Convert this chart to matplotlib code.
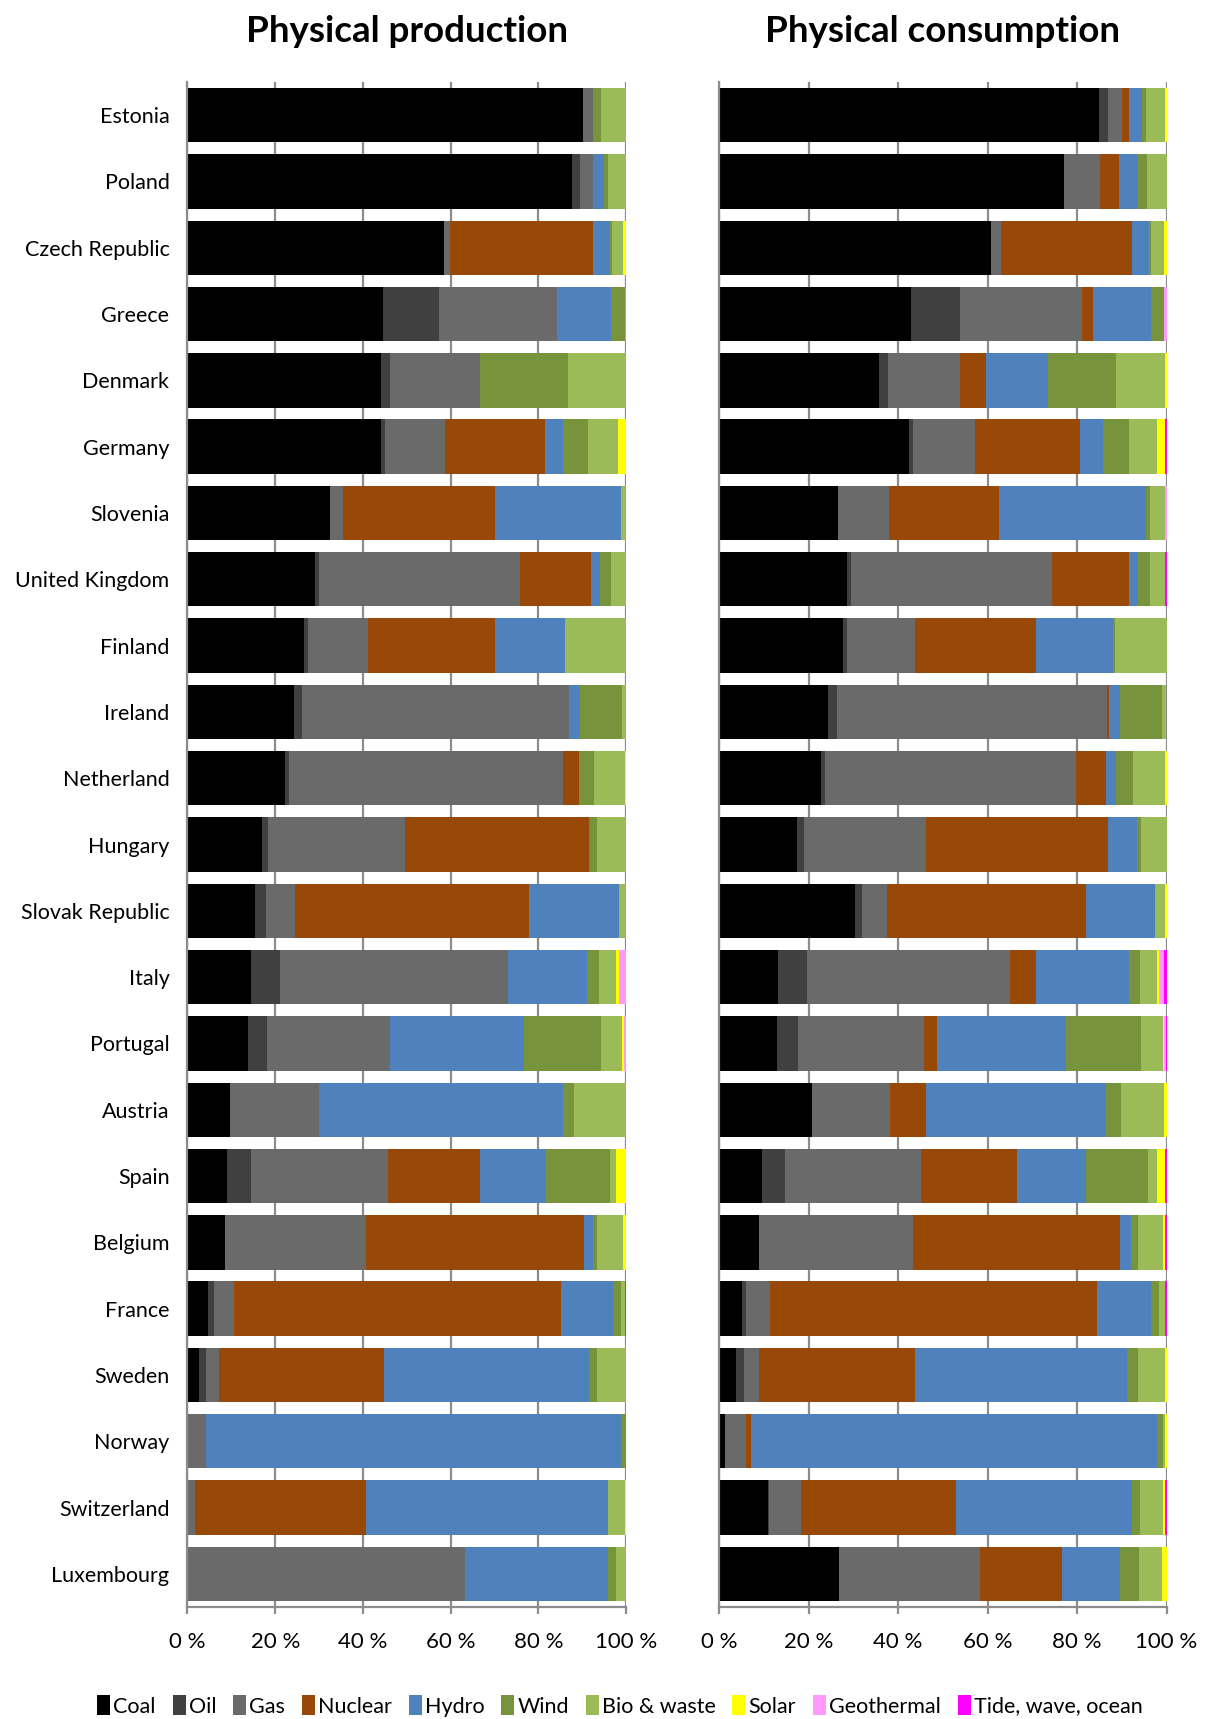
import matplotlib
matplotlib.use("Agg")
import matplotlib.pyplot as plt
import numpy as np
from matplotlib.patches import Patch

plt.rcParams['font.family'] = ['Lato', 'DejaVu Sans']

countries = ["Estonia", "Poland", "Czech Republic", "Greece", "Denmark", "Germany",
             "Slovenia", "United Kingdom", "Finland", "Ireland", "Netherland", "Hungary",
             "Slovak Republic", "Italy", "Portugal", "Austria", "Spain", "Belgium",
             "France", "Sweden", "Norway", "Switzerland", "Luxembourg"]

sources = ["Coal", "Oil", "Gas", "Nuclear", "Hydro", "Wind", "Bio & waste",
           "Solar", "Geothermal", "Tide, wave, ocean"]
colors = ["#000000", "#404040", "#6a6a6a", "#984807", "#4f81bd", "#77933c",
          "#9bbb59", "#ffff00", "#ff99ff", "#ff00ff"]

# Physical production (% share)
prod_coal = [90.1, 87.6, 58.6, 44.6, 44.2, 44.2, 32.5, 29.1, 26.6, 24.2, 22.2, 16.9,
             15.4, 14.4, 13.9, 9.6, 9.0, 8.5, 4.6, 2.7, 0.0, 0.0, 0.0]
prod_oil = [0.0, 2.0, 0.0, 12.6, 2.0, 1.0, 0.0, 0.9, 0.9, 2.0, 1.0, 1.4,
            2.4, 6.8, 4.3, 0.0, 5.4, 0.0, 1.5, 1.5, 0.0, 0.0, 0.0]
prod_gas = [2.4, 2.9, 1.2, 27.0, 20.5, 13.6, 2.9, 45.9, 13.7, 60.9, 62.4, 31.2,
            6.8, 51.9, 27.9, 20.5, 31.3, 32.2, 4.4, 2.9, 4.2, 1.7, 63.2]
prod_nuclear = [0.0, 0.0, 32.7, 0.0, 0.0, 23.0, 34.7, 16.1, 28.8, 0.0, 3.5, 42.0,
                53.2, 0.0, 0.0, 0.0, 21.0, 49.8, 74.7, 37.6, 0.0, 39.1, 0.0]
prod_hydro = [0.0, 2.4, 3.9, 12.2, 0.0, 4.0, 28.8, 2.0, 16.1, 2.4, 0.0, 0.4,
              20.5, 18.1, 30.7, 55.7, 15.1, 2.0, 11.8, 46.8, 94.7, 55.2, 32.8]
prod_wind = [1.9, 1.1, 0.4, 3.3, 20.0, 5.8, 0.0, 2.5, 0.0, 9.7, 3.4, 1.6,
             0.0, 2.8, 17.6, 2.4, 14.6, 0.9, 1.9, 2.0, 1.1, 0.0, 1.8]
prod_bio = [5.6, 4.0, 2.5, 0.2, 13.3, 6.8, 1.1, 3.5, 13.8, 0.8, 7.2, 6.5,
            1.7, 3.8, 4.8, 11.9, 1.4, 5.9, 0.9, 6.5, 0.0, 3.8, 2.2]
prod_solar = [0.0, 0.0, 0.7, 0.0, 0.0, 1.9, 0.0, 0.0, 0.0, 0.0, 0.2, 0.0,
              0.0, 0.6, 0.3, 0.0, 2.2, 0.7, 0.0, 0.0, 0.0, 0.2, 0.0]
prod_geo = [0.0, 0.0, 0.0, 0.0, 0.0, 0.0, 0.0, 0.0, 0.0, 0.0, 0.0, 0.0,
            0.0, 1.7, 0.5, 0.0, 0.0, 0.0, 0.0, 0.0, 0.0, 0.0, 0.0]
prod_tide = [0.0, 0.0, 0.0, 0.0, 0.0, 0.0, 0.0, 0.0, 0.0, 0.0, 0.0, 0.0,
             0.0, 0.0, 0.0, 0.0, 0.0, 0.0, 0.2, 0.0, 0.0, 0.0, 0.0]

# Physical consumption (% share)
cons_coal = [85.0, 76.8, 60.8, 43.0, 35.8, 42.4, 26.7, 28.5, 27.6, 24.3, 22.8, 17.5,
             30.5, 13.3, 12.8, 20.8, 9.5, 9.0, 5.1, 3.7, 1.3, 10.9, 26.7]
cons_oil = [2.0, 0.0, 0.0, 10.9, 1.9, 1.0, 0.0, 1.0, 0.9, 1.9, 1.0, 1.5,
            1.4, 6.3, 4.8, 0.0, 5.2, 0.0, 1.0, 1.9, 0.0, 0.3, 0.0]
cons_gas = [3.2, 8.1, 2.2, 27.2, 16.2, 13.9, 11.4, 44.9, 15.3, 60.2, 56.0, 27.3,
            5.7, 45.4, 28.1, 17.3, 30.5, 34.4, 5.3, 3.4, 4.8, 7.2, 31.4]
cons_nuclear = [1.5, 4.3, 29.2, 2.5, 5.7, 23.4, 24.4, 17.2, 26.8, 0.5, 6.7, 40.7,
                44.5, 5.8, 2.9, 8.2, 21.5, 46.3, 73.1, 34.8, 1.0, 34.5, 18.2]
cons_hydro = [2.9, 4.2, 3.8, 13.0, 13.9, 5.3, 33.0, 1.9, 17.3, 2.4, 2.4, 6.3,
              15.3, 21.0, 28.7, 40.1, 15.3, 2.4, 12.0, 47.4, 90.8, 39.2, 12.9]
cons_wind = [1.0, 1.9, 0.4, 2.9, 15.3, 5.7, 0.9, 2.8, 0.4, 9.5, 3.8, 0.9,
             0.0, 2.4, 16.7, 3.4, 13.9, 1.5, 1.9, 2.4, 1.4, 1.9, 4.3]
cons_bio = [4.2, 4.4, 2.9, 0.0, 10.9, 6.2, 3.3, 3.3, 11.5, 0.9, 7.1, 5.8,
            2.3, 3.8, 4.8, 9.5, 1.9, 5.7, 1.3, 6.1, 0.4, 5.2, 5.2]
cons_solar = [0.3, 0.0, 0.6, 0.0, 0.3, 1.9, 0.0, 0.0, 0.0, 0.0, 0.3, 0.0,
              0.3, 0.4, 0.2, 0.6, 1.9, 0.4, 0.0, 0.3, 0.3, 0.4, 0.9]
cons_geo = [0.0, 0.0, 0.0, 0.5, 0.0, 0.0, 0.3, 0.0, 0.0, 0.0, 0.0, 0.0,
            0.0, 1.2, 0.4, 0.0, 0.0, 0.0, 0.0, 0.0, 0.0, 0.0, 0.0]
cons_tide = [0.0, 0.0, 0.0, 0.0, 0.0, 0.3, 0.0, 0.3, 0.0, 0.0, 0.0, 0.0,
             0.0, 0.5, 0.2, 0.0, 0.3, 0.3, 0.3, 0.0, 0.0, 0.3, 0.0]

xticks = [0, 20, 40, 60, 80, 100]
xticklabels = ["0 %", "20 %", "40 %", "60 %", "80 %", "100 %"]

prod = np.array([prod_coal, prod_oil, prod_gas, prod_nuclear, prod_hydro, prod_wind,
                 prod_bio, prod_solar, prod_geo, prod_tide])
cons = np.array([cons_coal, cons_oil, cons_gas, cons_nuclear, cons_hydro, cons_wind,
                 cons_bio, cons_solar, cons_geo, cons_tide])
prod = prod / prod.sum(axis=0) * 100
cons = cons / cons.sum(axis=0) * 100

W, H = 1206, 1719
fig = plt.figure(figsize=(W / 100, H / 100), dpi=100)

top_px, bot_px = 82, 1607
panels = [(187.5, 626.0, prod, "Physical production", True),
          (719.0, 1166.5, cons, "Physical consumption", False)]

grid_color = "#8c8c8c"
y = np.arange(len(countries))
for (x0, x1, data, title, show_labels) in panels:
    ax = fig.add_axes([x0 / W, (H - bot_px) / H, (x1 - x0) / W, (bot_px - top_px) / H])
    left = np.zeros(len(countries))
    for i, src in enumerate(sources):
        ax.barh(y, data[i], left=left, height=0.82, color=colors[i], linewidth=0, zorder=2)
        left += data[i]
    ax.set_xlim(0, 100)
    ax.set_ylim(len(countries) - 0.5, -0.5)
    ax.set_xticks(xticks)
    ax.set_xticklabels(xticklabels, fontsize=16)
    ax.xaxis.grid(True, color=grid_color, linewidth=1.6, zorder=0)
    ax.set_axisbelow(True)
    for s in ["top", "right"]:
        ax.spines[s].set_visible(False)
    ax.spines["left"].set_color(grid_color)
    ax.spines["left"].set_linewidth(1.6)
    ax.spines["bottom"].set_color(grid_color)
    ax.spines["bottom"].set_linewidth(1.6)
    ax.tick_params(axis="x", length=5, width=1.6, color=grid_color, pad=13)
    ax.set_yticks(y)
    if show_labels:
        ax.set_yticklabels(countries, fontsize=15.5)
    else:
        ax.set_yticklabels([])
    ax.tick_params(axis="y", length=0, pad=13)
    fig.text((x0 + x1) / 2 / W, 1 - 32 / H, title, ha="center", va="center",
             fontsize=26.5, fontweight="bold")

handles = [Patch(facecolor=c, edgecolor="none") for c in colors]
fig.legend(handles, sources, loc="center", ncol=10, frameon=False,
           bbox_to_anchor=(0.514, 1 - 1706 / H), fontsize=15.5,
           handlelength=0.6, handleheight=1.0, handletextpad=0.15,
           columnspacing=0.78, borderaxespad=0)

fig.savefig("out.png", dpi=100)
